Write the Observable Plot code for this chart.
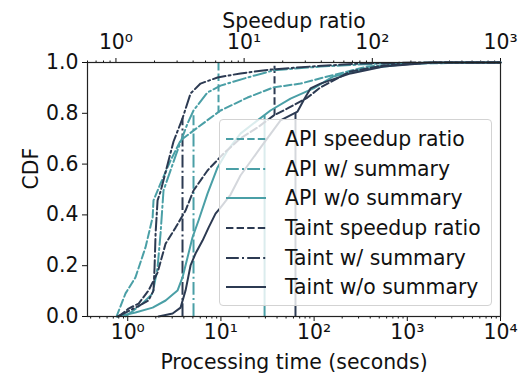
<!DOCTYPE html>
<html><head><meta charset="utf-8">
<script src="https://cdn.jsdelivr.net/npm/d3@7"></script>
<script src="https://cdn.jsdelivr.net/npm/@observablehq/plot@0.6"></script>
<style>
body{margin:0;background:#fff;font-family:"DejaVu Sans",sans-serif;}
#wrap{position:relative;width:526px;height:377px;}
#legend{position:absolute;left:219px;top:119px;width:273px;height:187px;box-sizing:border-box;border:1px solid #d3d3d3;border-radius:4px;background:rgba(255,255,255,0.8);}
.row{position:absolute;left:0;height:24px;display:flex;align-items:center;font-size:20.4px;color:#111;white-space:nowrap;}
.row svg{margin-left:6px;margin-right:19px;}
</style></head>
<body><div id="wrap"><div id="chart"></div><div id="legend"></div></div>
<script>
// ---- data (processing time in seconds / CDF) ----
const apiSpeedupX = [0.758,0.947,1.21,1.55,1.85,1.89,2.25,2.88,3.69,5.61,9.91,19.3,36.7,71.4,139,374,1082,10000];
const apiSpeedupY = [0,0.091,0.154,0.272,0.390,0.457,0.524,0.614,0.693,0.744,0.811,0.862,0.902,0.917,0.945,0.984,0.996,1.0];
const apiWithX = [0.947,1.44,1.85,2.09,2.25,2.42,3.42,4.38,5.08,7.18,9.91,19.3,36.7,117,515,2270,10000];
const apiWithY = [0,0.051,0.091,0.193,0.327,0.496,0.654,0.760,0.811,0.882,0.909,0.941,0.969,0.984,0.996,1.0,1.0];
const apiWithoutX = [0.778,1.21,1.85,2.55,3.42,3.87,4.38,4.95,5.75,7.18,9.20,11.8,16.2,24.7,34.0,55.8,98.6,161,374,1082,3720,10000];
const apiWithoutY = [0,0.016,0.035,0.063,0.102,0.154,0.232,0.311,0.378,0.484,0.587,0.654,0.720,0.772,0.811,0.858,0.898,0.945,0.976,0.996,1.0,1.0];
const taintSpeedupX = [0.797,1.02,1.31,1.67,2.09,2.55,3.26,4.17,5.08,7.18,10.7,16.2,24.7,36.7,51.8,84.9,117,246,556,1910,10000];
const taintSpeedupY = [0,0.031,0.051,0.102,0.173,0.287,0.350,0.417,0.496,0.575,0.642,0.701,0.744,0.791,0.819,0.862,0.902,0.965,0.988,1.0,1.0];
const taintWithX = [0.778,1.21,1.67,1.89,1.94,1.99,2.09,2.25,3.10,3.87,4.72,6.04,9.20,16.2,34.0,91.4,315,1386,10000];
const taintWithY = [0,0.035,0.063,0.102,0.193,0.327,0.457,0.492,0.689,0.780,0.878,0.917,0.941,0.957,0.972,0.984,0.996,1.0,1.0];
const taintWithoutX = [2.14,3.03,3.69,4.17,4.72,5.34,6.35,7.37,8.75,9.91,12.7,16.2,26.6,43.6,66.4,76.9,91.4,117,246,556,1910,10000];
const taintWithoutY = [0,0.012,0.035,0.102,0.201,0.248,0.299,0.350,0.405,0.429,0.480,0.555,0.665,0.772,0.807,0.850,0.898,0.917,0.957,0.984,1.0,1.0];
// vertical marker segments, one per series (same order as names)
const markerX  = [9.42, 5.08, 29.4, 37.6, 3.87, 63.1];
const markerY1 = [0.80, 0, 0, 0.79, 0, 0];
const markerY2 = [1.0, 0.79, 0.79, 0.985, 0.78, 0.80];

const names = ["API speedup ratio","API w/ summary","API w/o summary","Taint speedup ratio","Taint w/ summary","Taint w/o summary"];
const seriesX = [apiSpeedupX, apiWithX, apiWithoutX, taintSpeedupX, taintWithX, taintWithoutX];
const seriesY = [apiSpeedupY, apiWithY, apiWithoutY, taintSpeedupY, taintWithY, taintWithoutY];

const timeTicks = [1,10,100,1000,10000];
const speedupTicks = [1,10,100,1000];
const cdfTicks = [0,0.2,0.4,0.6,0.8,1.0];
const xDomain = [0.37, 10000];
const topDomain = [0.6, 1000];

// ---- styles ----
const teal = "#4a9fa6", dark = "#2c3a52";
const colors = [teal, teal, teal, dark, dark, dark];
const DASHED = "7.4,3.2", DASHDOT = "12.8,3.2,2,3.2", SOLID = "none";
const dashes = [DASHED, DASHDOT, SOLID, DASHED, DASHDOT, SOLID];

const sup = {"-":"⁻","0":"⁰","1":"¹","2":"²","3":"³","4":"⁴","5":"⁵"};
const pow10Label = v => "10" + String(Math.round(Math.log10(v))).split("").map(c => sup[c]).join("");
const L = Math.log10;
const s2t = s => Math.pow(10, L(xDomain[0]) + (L(s) - L(topDomain[0])) * (L(xDomain[1]) - L(xDomain[0])) / (L(topDomain[1]) - L(topDomain[0])));

const minor = (lo, hi) => { const out = []; for (let e = -1; e <= 4; e++) for (let k = 2; k <= 9; k++) { const v = k * Math.pow(10, e); if (v >= lo && v <= hi) out.push(v); } return out; };
const minorBottom = minor(xDomain[0], xDomain[1]);
const minorTop = minor(topDomain[0], topDomain[1]).map(s2t);

const lineMarks = names.map((n, i) => Plot.line(seriesX[i].map((x, j) => ({x, y: seriesY[i][j]})), {
  x: "x", y: "y", stroke: colors[i], strokeWidth: 2, strokeDasharray: dashes[i] === "none" ? null : dashes[i]
}));
const ruleMarks = names.map((n, i) => Plot.ruleX([markerX[i]], {
  y1: markerY1[i], y2: markerY2[i], stroke: colors[i], strokeWidth: 2, strokeDasharray: dashes[i] === "none" ? null : dashes[i]
}));

const blank = () => "";
const chart = Plot.plot({
  width: 526, height: 377,
  marginLeft: 87, marginRight: 26, marginTop: 62, marginBottom: 61,
  style: {fontFamily: "DejaVu Sans", fontSize: "20.4px", color: "#111", background: "white"},
  x: {type: "log", domain: xDomain},
  y: {domain: [0, 1]},
  marks: [
    Plot.axisX({anchor: "bottom", ticks: minorBottom, tickFormat: blank, tickSize: 2.5, label: null}),
    Plot.axisX({anchor: "bottom", ticks: timeTicks, tickFormat: pow10Label, tickSize: 5, tickPadding: 3, label: null, fontSize: 20.4}),
    Plot.axisX({anchor: "top", ticks: minorTop, tickFormat: blank, tickSize: 2.5, label: null}),
    Plot.axisX({anchor: "top", ticks: speedupTicks.map(s2t), tickFormat: blank, tickSize: 5, label: null}),
    Plot.text(speedupTicks, {x: s2t, text: pow10Label, frameAnchor: "top", lineAnchor: "bottom", dy: -14, fontSize: 20.4}),
    Plot.axisY({ticks: cdfTicks, tickFormat: d3.format(".1f"), tickSize: 5, tickPadding: 4, label: null, fontSize: 20.4}),
    ...ruleMarks,
    ...lineMarks,
    Plot.frame({stroke: "#222", strokeWidth: 1.2}),
    Plot.text(["Processing time (seconds)"], {text: d => d, frameAnchor: "bottom", dy: 52, fontSize: 20.4}),
    Plot.text(["CDF"], {text: d => d, frameAnchor: "left", dx: -56, rotate: -90, fontSize: 20.4}),
    Plot.text(["Speedup ratio"], {text: d => d, frameAnchor: "top", dy: -49, fontSize: 20.4})
  ]
});
document.getElementById("chart").appendChild(chart);

// ---- legend ----
const legend = document.getElementById("legend");
const rowTops = [7, 37, 66, 96, 126, 155];
names.forEach((n, i) => {
  const row = document.createElement("div");
  row.className = "row";
  row.style.top = rowTops[i] + "px";
  const da = dashes[i] === "none" ? "" : `stroke-dasharray="${dashes[i]}"`;
  row.innerHTML = `<svg width="40" height="10"><line x1="0" y1="5" x2="40" y2="5" stroke="${colors[i]}" stroke-width="2" ${da}/></svg><span>${n}</span>`;
  legend.appendChild(row);
});
</script>
</body></html>
